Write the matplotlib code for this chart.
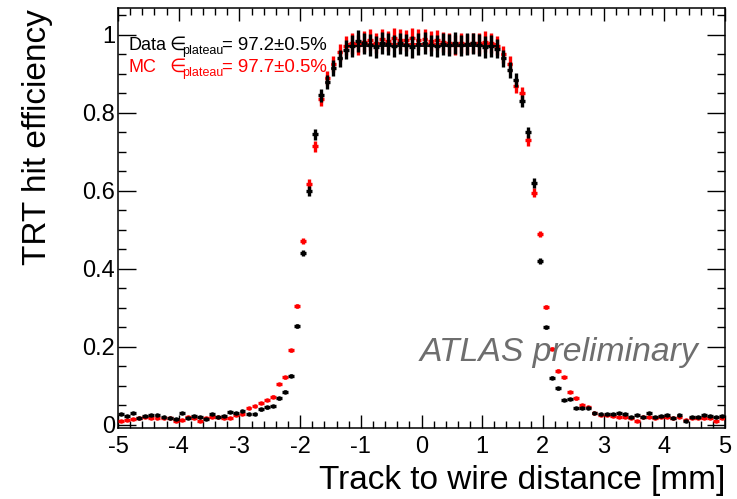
import numpy as np
import matplotlib
matplotlib.use("Agg")
import matplotlib.pyplot as plt
from matplotlib.ticker import MultipleLocator, FixedLocator, FuncFormatter

plt.rcParams['font.family'] = ['Liberation Sans', 'DejaVu Sans']
plt.rcParams['axes.unicode_minus'] = False

# ---- data ----
bin_edges = np.linspace(-5, 5, 101)
distance = 0.5 * (bin_edges[:-1] + bin_edges[1:])

data_eff = [
    0.027, 0.022, 0.030, 0.019, 0.024, 0.026, 0.026, 0.021, 0.017, 0.015,
    0.032, 0.017, 0.023, 0.021, 0.015, 0.028, 0.021, 0.024,
    0.034, 0.032, 0.035, 0.027, 0.029, 0.040, 0.045, 0.049, 0.068, 0.085,
    0.126, 0.254, 0.440, 0.600, 0.745, 0.845, 0.880, 0.915, 0.940, 0.962,
    0.972, 0.985, 0.978, 0.975, 0.970, 0.980, 0.976, 0.972, 0.978, 0.974,
    0.970, 0.976, 0.979, 0.973, 0.971, 0.977, 0.975, 0.980, 0.973, 0.976,
    0.978, 0.974, 0.970, 0.972,
    0.965, 0.940, 0.910, 0.885, 0.830, 0.750, 0.620, 0.420, 0.250, 0.121,
    0.094, 0.064, 0.066, 0.043, 0.043, 0.043, 0.030, 0.027, 0.027, 0.027,
    0.032, 0.027, 0.021, 0.026, 0.020, 0.032, 0.021, 0.023, 0.026, 0.017,
    0.026, 0.009, 0.021, 0.020, 0.026, 0.023, 0.021, 0.023,
]
mc_eff = [
    0.010, 0.013, 0.015, 0.017, 0.020, 0.017, 0.017, 0.017, 0.017, 0.010,
    0.013, 0.020, 0.017, 0.011, 0.017, 0.020, 0.020, 0.017,
    0.019, 0.026, 0.028, 0.044, 0.049, 0.056, 0.064, 0.073, 0.105, 0.122,
    0.191, 0.305, 0.472, 0.618, 0.715, 0.835, 0.890, 0.925, 0.955, 0.972,
    0.978, 0.975, 0.983, 0.988, 0.980, 0.990, 0.985, 0.992, 0.988, 0.986,
    0.993, 0.988, 0.990, 0.984, 0.987, 0.982, 0.978, 0.975, 0.980, 0.976,
    0.980, 0.978, 0.983, 0.980,
    0.972, 0.950, 0.925, 0.870, 0.850, 0.730, 0.596, 0.490, 0.303, 0.195,
    0.139, 0.122, 0.085, 0.068, 0.051, 0.047, 0.030, 0.026, 0.026, 0.023,
    0.020, 0.021, 0.017, 0.011, 0.020, 0.020, 0.017, 0.021, 0.021, 0.019,
    0.021, 0.014, 0.017, 0.017, 0.019, 0.017, 0.011, 0.019,
]
data_err = (
    [0.002] * 18
    + [0.002, 0.002, 0.002, 0.002, 0.002, 0.003, 0.003, 0.003, 0.003, 0.004,
       0.004, 0.005, 0.008, 0.012, 0.014, 0.016, 0.018, 0.020, 0.022, 0.025]
    + [0.028] * 24
    + [0.025, 0.022, 0.020, 0.018, 0.016, 0.014, 0.012, 0.008, 0.005, 0.004,
       0.004, 0.003, 0.003, 0.003, 0.002, 0.002, 0.002, 0.002, 0.002, 0.002]
    + [0.002] * 18
)
mc_err = (
    [0.002] * 18
    + [0.002, 0.002, 0.002, 0.002, 0.002, 0.003, 0.003, 0.003, 0.003, 0.004,
       0.004, 0.005, 0.008, 0.012, 0.014, 0.016, 0.018, 0.020, 0.022, 0.024]
    + [0.026] * 24
    + [0.024, 0.022, 0.020, 0.018, 0.016, 0.014, 0.012, 0.008, 0.005, 0.004,
       0.004, 0.003, 0.003, 0.003, 0.002, 0.002, 0.002, 0.002, 0.002, 0.002]
    + [0.002] * 18
)
plateau_range = [-1.25, 1.25]
data_plateau = 0.972
mc_plateau = 0.977

x_ticks = [-5, -4, -3, -2, -1, 0, 1, 2, 3, 4, 5]
y_ticks = [0, 0.2, 0.4, 0.6, 0.8, 1.0]

# ---- figure ----
W, H = 737, 499
fig = plt.figure(figsize=(W / 100, H / 100), dpi=100)
ax = fig.add_axes([118 / W, 1 - 428 / H, (725 - 118) / W, (428 - 8) / H])

ax.errorbar(distance, mc_eff, yerr=mc_err, xerr=0.048, fmt='o', color='#ff0000',
            ms=3.2, mew=0, elinewidth=2.4, capsize=0, zorder=3)
ax.errorbar(distance, data_eff, yerr=data_err, xerr=0.048, fmt='o', color='black',
            ms=3.2, mew=0, elinewidth=2.4, capsize=0, zorder=4)
ax.plot(plateau_range, [mc_plateau, mc_plateau], color='#ff0000', lw=1.3, zorder=2)
ax.plot(plateau_range, [data_plateau, data_plateau], color='black', lw=1.3, zorder=5)

ax.set_xlim(-5, 5)
ax.set_ylim(-0.0077, 1.069)

ax.xaxis.set_major_locator(FixedLocator(x_ticks))
ax.xaxis.set_minor_locator(MultipleLocator(0.2))
ax.yaxis.set_major_locator(FixedLocator(y_ticks))
ax.yaxis.set_minor_locator(MultipleLocator(0.05))
ax.xaxis.set_major_formatter(FuncFormatter(lambda v, p: f"{v:g}"))
ax.yaxis.set_major_formatter(FuncFormatter(lambda v, p: f"{v:g}"))

for side in ax.spines.values():
    side.set_linewidth(1.1)
ax.tick_params(axis='x', which='major', direction='in', length=9.4, width=1.0,
               top=True, bottom=True, labelsize=17, pad=6)
ax.tick_params(axis='x', which='minor', direction='in', length=4.7, width=1.0,
               top=True, bottom=True)
ax.tick_params(axis='y', which='major', direction='in', length=13, width=1.0,
               left=True, right=True, labelsize=17, pad=2)
ax.tick_params(axis='y', which='minor', direction='in', length=6.1, width=1.0,
               left=True, right=True)

# axis titles
fig.text(46 / W, 1 - 9 / H, "TRT hit efficiency", rotation=90, rotation_mode='anchor',
         ha='right', va='baseline', fontsize=24)
fig.text(725 / W, 1 - 489 / H, "Track to wire distance [mm]", ha='right',
         va='baseline', fontsize=24)

# annotations
def plateau_label(label, value, color, base):
    fig.text(128 / W, 1 - base / H, label, fontsize=13, color=color, va='baseline')
    fig.text(169 / W, 1 - base / H, "\u2208", fontsize=13.5, color=color,
             va='baseline', family='DejaVu Sans')
    fig.text(182 / W, 1 - (base + 4) / H, "plateau", fontsize=9, color=color,
             va='baseline')
    fig.text(222 / W, 1 - base / H, value, fontsize=13.4, color=color, va='baseline')

plateau_label("Data", "= 97.2\u00b10.5%", 'black', 50)
plateau_label("MC", "= 97.7\u00b10.5%", '#ff0000', 72)

fig.text(420 / W, 1 - 361 / H, "ATLAS preliminary", fontsize=24.3, style='italic',
         color='#6e6e6e', va='baseline')

fig.savefig("out.png", dpi=100)
